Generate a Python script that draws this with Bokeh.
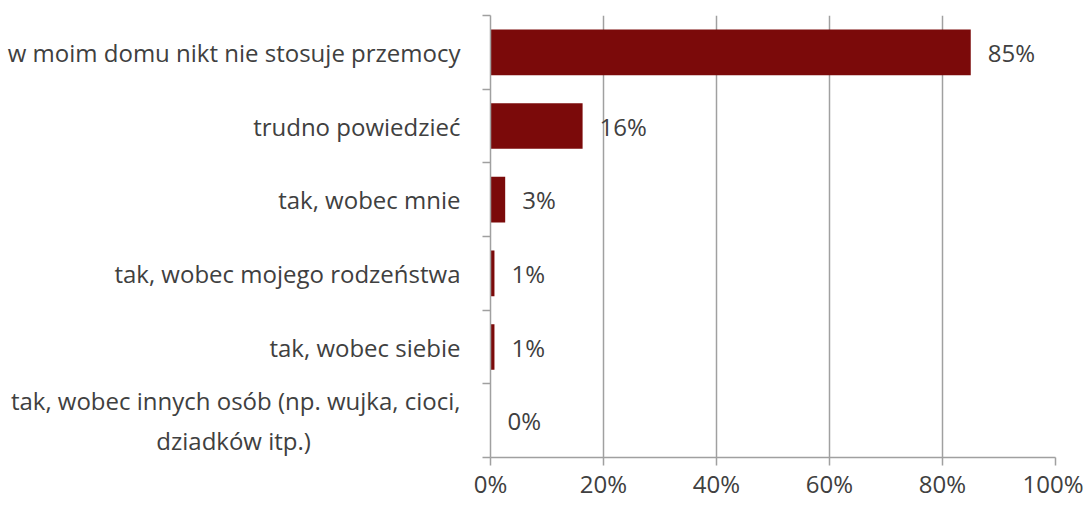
from bokeh.plotting import figure
from bokeh.models import ColumnDataSource, FixedTicker, Range1d
from bokeh.core.properties import value
from bokeh.embed import file_html
from bokeh.resources import INLINE

NBSP = "\u00a0"
categories = [
    "w moim domu nikt nie stosuje przemocy",
    "trudno powiedzieć",
    "tak, wobec mnie",
    "tak, wobec mojego rodzeństwa",
    "tak, wobec siebie",
    "tak, wobec innych osób (np. wujka, cioci,\ndziadków itp.)",
]
values = [85.0, 16.3, 2.6, 0.7, 0.7, 0.0]
value_labels = ["85%", "16%", "3%", "1%", "1%", "0%"]
x_ticks = [0, 20, 40, 60, 80, 100]

FONT = "Open Sans"
FS = "24px"
GREY = "#a0a0a0"
TXT = "#404040"
BAR = "#7B0A0A"

n = len(categories)
ypos = [n - 0.5 - i for i in range(n)]

src = ColumnDataSource(dict(cat=categories, val=values, lab=value_labels, y=ypos))

p = figure(width=1083, height=502, output_backend="svg", toolbar_location=None,
           x_range=Range1d(0, 100), y_range=Range1d(0, n),
           min_border_left=490, min_border_right=28, min_border_top=15, min_border_bottom=43)
p.outline_line_color = None
p.background_fill_color = "white"

p.hbar(y="y", right="val", left=0, height=0.62, source=src, fill_color=BAR, line_color=None)
p.text(x="val", y="y", text="lab", source=src, x_offset=17, text_baseline="middle",
       text_align="left", text_font=value(FONT), text_font_size=FS, text_color=TXT)

# x axis
xa = p.xaxis[0]
xa.ticker = FixedTicker(ticks=x_ticks)
xa.major_label_overrides = {t: f"{t}%" for t in x_ticks}
xa.axis_line_color = GREY
xa.major_tick_line_color = GREY
xa.major_tick_in = 0
xa.major_tick_out = 8
xa.minor_tick_line_color = None
xa.major_label_standoff = 1
xa.major_label_text_font = FONT
xa.major_label_text_font_size = FS
xa.major_label_text_color = TXT
xa.axis_line_width = 1.5
xa.major_tick_line_width = 1.5

# y axis: labels at centres, ticks at boundaries.
# Multi-line labels: pad the shorter lines with no-break spaces so that the
# right-aligned lines appear centred on each other.
def centre_lines(text, space_px=6.24):
    lines = text.split("\n")
    if len(lines) == 1:
        return text
    widths = {"tak, wobec innych osób (np. wujka, cioci,": 452, "dziadków itp.)": 157}
    w = [widths.get(l, 0) for l in lines]
    wmax = max(w)
    return "\n".join(l + NBSP * int(round((wmax - wi) / 2 / space_px)) for l, wi in zip(lines, w))

ya = p.yaxis[0]
ya.ticker = FixedTicker(ticks=ypos, minor_ticks=list(range(n + 1)))
ya.major_label_overrides = {y: centre_lines(c) for y, c in zip(ypos, categories)}
ya.axis_line_color = GREY
ya.axis_line_width = 1.5
ya.major_tick_line_color = None
ya.major_tick_in = 0
ya.major_tick_out = 0
ya.minor_tick_line_color = GREY
ya.minor_tick_line_width = 1.5
ya.minor_tick_in = 0
ya.minor_tick_out = 8
ya.major_label_standoff = 22
ya.major_label_text_font = FONT
ya.major_label_text_font_size = FS
ya.major_label_text_color = TXT

p.xgrid.ticker = FixedTicker(ticks=x_ticks)
p.xgrid.grid_line_color = GREY
p.xgrid.grid_line_width = 1.5
p.ygrid.grid_line_color = None

open("out.html", "w").write(file_html(p, INLINE))
